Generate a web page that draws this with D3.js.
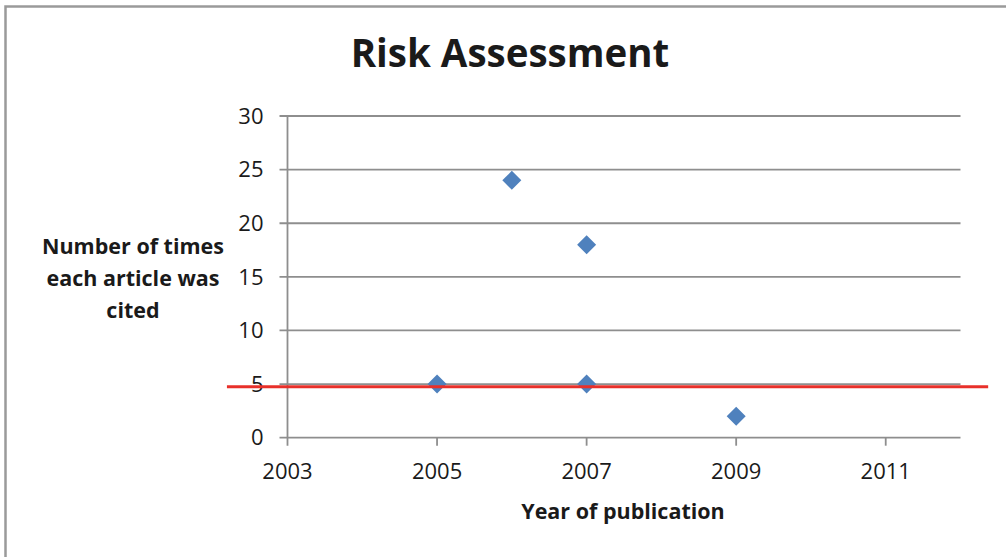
<!DOCTYPE html>
<html><head><meta charset="utf-8">
<script src="https://cdn.jsdelivr.net/npm/d3@7"></script>
<style>body{margin:0;background:#fff;}svg{display:block;font-family:"Open Sans",sans-serif;}</style>
</head><body>
<script>
const years = [2005, 2006, 2007, 2007, 2009];
const citations = [5, 24, 18, 5, 2];
const xTicks = [2003, 2005, 2007, 2009, 2011];
const yTicks = [0, 5, 10, 15, 20, 25, 30];
const thresholdValue = [4.75];
const thresholdExtent = [2002.19, 2012.37];
const titleText = "Risk Assessment";
const xTitle = "Year of publication";
const yTitleLines = ["Number of times", "each article was", "cited"];

const W = 1006, H = 557;
const svg = d3.select("body").append("svg").attr("width", W).attr("height", H);

// outer border (top & left visible)
svg.append("path").attr("d", `M5.5,${H} V6.5 H${W}`).attr("fill","none").attr("stroke","#9a9a9a").attr("stroke-width",2.5);

const x = d3.scaleLinear().domain([2003, 2012]).range([287.5, 960.5]);
const y = d3.scaleLinear().domain([0, 30]).range([437.7, 116]);

// gridlines
svg.append("g").selectAll("line").data(yTicks).join("line")
  .attr("x1", x(2003) - 8).attr("x2", x(2012))
  .attr("y1", d => y(d)).attr("y2", d => y(d))
  .attr("stroke", "#8e8e8e").attr("stroke-width", 1.8);

// y axis line
svg.append("line").attr("x1", x(2003)).attr("x2", x(2003)).attr("y1", y(30)).attr("y2", y(0) + 8)
  .attr("stroke", "#8e8e8e").attr("stroke-width", 1.8);

// x ticks
svg.append("g").selectAll("line").data(xTicks.slice(1)).join("line")
  .attr("x1", d => x(d)).attr("x2", d => x(d)).attr("y1", y(0)).attr("y2", y(0) + 8)
  .attr("stroke", "#8e8e8e").attr("stroke-width", 1.8);

// y tick labels
svg.append("g").selectAll("text").data(yTicks).join("text")
  .attr("x", x(2003) - 24).attr("y", d => y(d)).attr("dy", "0.35em")
  .attr("text-anchor", "end").attr("font-size", 22).attr("fill", "#1a1a1a").text(d => d);

// x tick labels
svg.append("g").selectAll("text").data(xTicks).join("text")
  .attr("x", d => x(d)).attr("y", y(0) + 41)
  .attr("text-anchor", "middle").attr("font-size", 22).attr("fill", "#1a1a1a").text(d => d);

// points
const pts = years.map((yr, i) => ({yr, v: citations[i]}));
const r = 9.5;
svg.append("g").selectAll("path").data(pts).join("path")
  .attr("d", d => { const cx = x(d.yr), cy = y(d.v); return `M${cx},${cy - r}L${cx + r},${cy}L${cx},${cy + r}L${cx - r},${cy}Z`; })
  .attr("fill", "#4f81bd");

// threshold red line
svg.append("g").selectAll("line").data(thresholdValue).join("line")
  .attr("x1", x(thresholdExtent[0])).attr("x2", x(thresholdExtent[1]))
  .attr("y1", d => y(d)).attr("y2", d => y(d))
  .attr("stroke", "#e8302a").attr("stroke-width", 3.2);

// title
svg.append("text").attr("x", 510).attr("y", 67).attr("text-anchor", "middle")
  .attr("font-size", 38.5).attr("font-weight", "bold").attr("fill", "#1a1a1a").text(titleText);

// x title
svg.append("text").attr("x", 623).attr("y", 519).attr("text-anchor", "middle")
  .attr("font-size", 21.5).attr("font-weight", "bold").attr("fill", "#1a1a1a").text(xTitle);

// y title
svg.append("g").selectAll("text").data(yTitleLines).join("text")
  .attr("x", 133).attr("y", (d, i) => 254 + i * 32).attr("text-anchor", "middle")
  .attr("font-size", 21.5).attr("font-weight", "bold").attr("fill", "#1a1a1a").text(d => d);
</script>
</body></html>
